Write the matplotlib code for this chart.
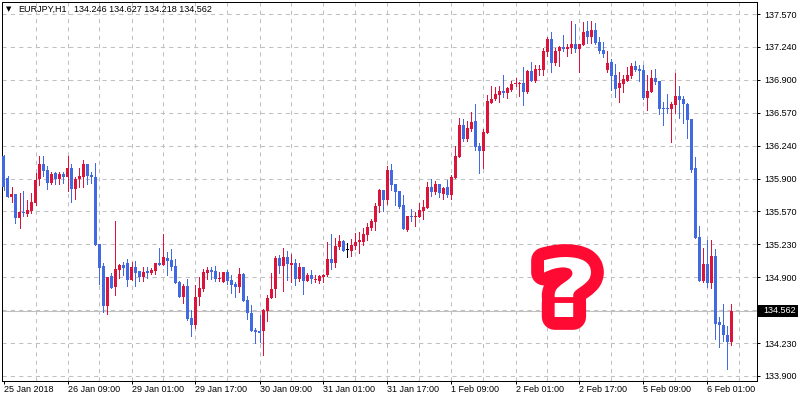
import numpy as np
import matplotlib
matplotlib.use('Agg')
import matplotlib.pyplot as plt
from matplotlib.textpath import TextPath
from matplotlib.patches import PathPatch, Rectangle
from matplotlib.font_manager import FontProperties
from matplotlib.transforms import Affine2D, blended_transform_factory

plt.rcParams['font.family'] = 'Liberation Sans'
plt.rcParams['font.size'] = 6.5

# --- EURJPY H1 bars ---
opens = [
    136.131, 135.904, 135.714, 135.744, 135.504, 135.564, 135.544, 135.574, 135.654, 135.894,
    136.051, 135.991, 135.854, 135.961, 135.894, 135.951, 135.914, 136.011, 135.794, 135.894,
    135.914, 136.051, 135.934, 135.914, 135.237, 135.017, 134.611, 134.911, 134.801, 134.977,
    135.027, 135.047, 134.871, 135.007, 134.967, 134.901, 134.967, 134.947, 134.967, 135.047,
    135.027, 135.097, 135.077, 135.017, 134.851, 134.701, 134.811, 134.491, 134.414, 134.701,
    134.781, 134.947, 134.977, 134.967, 134.881, 134.851, 134.957, 134.871, 134.831, 134.801,
    134.937, 134.671, 134.541, 134.364, 134.354, 134.354, 134.561, 134.691, 134.781, 135.097,
    135.017, 135.107, 135.027, 135.047, 134.881, 135.007, 134.861, 134.921, 134.871, 134.861,
    134.901, 134.921, 135.087, 135.047, 135.207, 135.267, 135.177, 135.167, 135.217, 135.257,
    135.257, 135.327, 135.397, 135.464, 135.624, 135.784, 135.684, 135.991, 135.844, 135.774,
    135.634, 135.377, 135.524, 135.514, 135.514, 135.574, 135.604, 135.814, 135.764, 135.844,
    135.744, 135.814, 135.734, 135.904, 136.121, 136.441, 136.301, 136.401, 136.488, 136.231,
    136.181, 136.361, 136.668, 136.708, 136.748, 136.788, 136.768, 136.798, 136.858, 136.858,
    136.868, 136.778, 136.997, 136.888, 137.007, 137.007, 137.187, 137.317, 137.077, 137.197,
    137.237, 137.217, 137.227, 137.267, 137.217, 137.257, 137.397, 137.337, 137.407, 137.287,
    137.207, 137.007, 137.087, 136.948, 136.818, 136.858, 136.888, 136.938, 137.047, 137.017,
    137.007, 136.718, 136.778, 136.918, 136.888, 136.618, 136.618, 136.608, 136.648, 136.738,
    136.708, 136.658, 136.508, 136.011, 135.307, 134.861, 135.037, 134.841, 135.117, 134.451,
    134.414, 134.314, 134.246,
]
highs = [
    136.141, 135.924, 135.814, 135.744, 135.754, 135.774, 135.684, 135.754, 135.961, 136.131,
    136.131, 136.031, 135.971, 135.971, 135.971, 135.971, 136.131, 136.051, 135.914, 136.011,
    136.091, 136.051, 135.971, 136.061, 135.237, 135.047, 134.901, 134.947, 135.474, 135.037,
    135.057, 135.087, 135.057, 135.067, 134.967, 135.007, 135.007, 134.997, 135.047, 135.197,
    135.337, 135.157, 135.187, 135.087, 134.861, 134.831, 134.881, 134.571, 134.821, 134.901,
    134.987, 135.007, 135.007, 135.017, 134.957, 134.957, 134.977, 134.927, 134.851, 134.997,
    134.947, 134.711, 134.621, 134.384, 134.521, 134.581, 134.721, 134.947, 135.117, 135.127,
    135.197, 135.167, 135.137, 135.087, 135.047, 135.007, 134.947, 134.977, 134.921, 134.921,
    134.937, 135.257, 135.337, 135.297, 135.327, 135.277, 135.247, 135.287, 135.347, 135.357,
    135.397, 135.454, 135.494, 135.654, 135.794, 135.784, 136.031, 136.051, 135.844, 135.774,
    135.734, 135.524, 135.594, 135.564, 135.654, 135.684, 135.864, 135.894, 135.874, 135.844,
    135.814, 135.884, 135.934, 136.231, 136.518, 136.508, 136.488, 136.578, 136.658, 136.261,
    136.401, 136.748, 136.838, 136.828, 136.838, 136.948, 136.828, 136.888, 136.918, 136.878,
    137.037, 137.007, 137.087, 137.057, 137.057, 137.227, 137.337, 137.387, 137.227, 137.247,
    137.357, 137.267, 137.497, 137.467, 137.267, 137.487, 137.497, 137.497, 137.477, 137.337,
    137.287, 137.197, 137.117, 137.067, 136.977, 136.948, 137.037, 137.077, 137.097, 137.057,
    137.057, 136.948, 137.007, 137.017, 136.888, 136.678, 136.758, 136.678, 136.967, 136.838,
    136.738, 136.668, 136.508, 136.121, 135.417, 135.197, 135.277, 135.277, 135.187, 134.501,
    134.631, 134.404, 134.627,
]
lows = [
    135.784, 135.714, 135.664, 135.454, 135.397, 135.524, 135.524, 135.554, 135.634, 135.834,
    135.924, 135.794, 135.844, 135.844, 135.844, 135.854, 135.774, 135.664, 135.694, 135.814,
    135.814, 135.844, 135.854, 135.227, 134.831, 134.551, 134.531, 134.791, 134.721, 134.891,
    134.921, 134.811, 134.871, 134.811, 134.861, 134.861, 134.891, 134.937, 134.937, 135.027,
    135.027, 134.921, 134.977, 134.841, 134.701, 134.641, 134.471, 134.304, 134.384, 134.621,
    134.761, 134.881, 134.881, 134.861, 134.861, 134.851, 134.831, 134.741, 134.701, 134.751,
    134.661, 134.481, 134.354, 134.234, 134.244, 134.114, 134.461, 134.691, 134.701, 134.947,
    134.761, 134.871, 134.851, 134.821, 134.861, 134.731, 134.861, 134.841, 134.851, 134.841,
    134.851, 134.911, 134.987, 135.007, 135.187, 135.167, 135.107, 135.117, 135.187, 135.147,
    135.227, 135.277, 135.377, 135.377, 135.564, 135.574, 135.644, 135.784, 135.634, 135.604,
    135.387, 135.367, 135.474, 135.417, 135.514, 135.494, 135.604, 135.724, 135.744, 135.714,
    135.694, 135.714, 135.694, 135.904, 136.121, 136.281, 136.281, 136.381, 136.191, 135.961,
    136.011, 136.361, 136.668, 136.698, 136.678, 136.728, 136.718, 136.788, 136.838, 136.738,
    136.648, 136.768, 136.888, 136.878, 136.948, 136.948, 137.147, 136.977, 137.057, 137.047,
    137.197, 137.147, 137.177, 137.187, 136.987, 137.257, 137.277, 137.277, 137.267, 137.177,
    137.137, 136.977, 136.798, 136.728, 136.678, 136.778, 136.888, 136.918, 136.997, 136.888,
    136.708, 136.598, 136.778, 136.858, 136.558, 136.441, 136.568, 136.271, 136.568, 136.518,
    136.468, 136.311, 135.971, 135.297, 134.861, 134.851, 134.801, 134.791, 134.274, 134.194,
    134.254, 133.974, 134.218,
]
closes = [
    135.814, 135.714, 135.744, 135.504, 135.564, 135.554, 135.584, 135.664, 135.884, 136.051,
    135.981, 135.854, 135.951, 135.894, 135.951, 135.914, 136.011, 135.794, 135.894, 135.924,
    136.051, 135.924, 135.914, 135.227, 134.997, 134.611, 134.901, 134.791, 134.987, 135.027,
    134.997, 134.871, 135.007, 134.947, 134.901, 134.957, 134.947, 134.977, 135.047, 135.027,
    135.107, 135.067, 135.007, 134.841, 134.701, 134.811, 134.481, 134.414, 134.701, 134.791,
    134.957, 134.977, 134.957, 134.881, 134.891, 134.957, 134.861, 134.821, 134.801, 134.937,
    134.661, 134.541, 134.354, 134.344, 134.334, 134.571, 134.691, 134.781, 135.097, 135.017,
    135.107, 135.037, 135.047, 134.881, 135.007, 134.861, 134.921, 134.881, 134.881, 134.911,
    134.921, 135.087, 135.047, 135.217, 135.267, 135.167, 135.177, 135.227, 135.257, 135.277,
    135.337, 135.407, 135.474, 135.624, 135.784, 135.684, 135.991, 135.834, 135.764, 135.614,
    135.387, 135.524, 135.514, 135.524, 135.584, 135.614, 135.814, 135.764, 135.844, 135.754,
    135.804, 135.734, 135.914, 136.131, 136.441, 136.301, 136.411, 136.478, 136.221, 136.181,
    136.371, 136.688, 136.708, 136.758, 136.788, 136.768, 136.818, 136.858, 136.868, 136.868,
    136.778, 136.997, 136.888, 137.017, 137.017, 137.197, 137.317, 137.077, 137.197, 137.237,
    137.217, 137.237, 137.267, 137.217, 137.267, 137.387, 137.337, 137.407, 137.277, 137.197,
    137.167, 137.077, 136.938, 136.808, 136.868, 136.908, 136.948, 137.047, 137.007, 136.997,
    136.718, 136.788, 136.918, 136.878, 136.608, 136.608, 136.608, 136.658, 136.738, 136.698,
    136.658, 136.498, 135.991, 135.297, 134.861, 135.037, 134.841, 135.117, 134.431, 134.414,
    134.314, 134.244, 134.562,
]

time_labels = ['25 Jan 2018', '26 Jan 09:00', '29 Jan 01:00', '29 Jan 17:00', '30 Jan 09:00',
               '31 Jan 01:00', '31 Jan 17:00', '1 Feb 09:00', '2 Feb 01:00', '2 Feb 17:00',
               '5 Feb 09:00', '6 Feb 01:00']
price_levels = [133.900, 134.2336, 134.5673, 134.9009, 135.2345, 135.5682,
                135.9018, 136.2355, 136.5691, 136.9027, 137.2364, 137.570]
price_labels = ['133.900', '134.230', '', '134.900', '135.230', '135.570',
                '135.900', '136.240', '136.570', '136.900', '137.240', '137.570']

symbol = 'EURJPY,H1'

o, h, l, c = map(np.array, (opens, highs, lows, closes))
assert len(o) == len(h) == len(l) == len(c)
x = np.arange(len(o))

RED = '#dc143c'
BLUE = '#4169e1'
GRID = '#c0c0c0'
colors = np.where(c > o, RED, np.where(c < o, BLUE, '#000000'))

fig = plt.figure(figsize=(8, 4), dpi=100)
ax = fig.add_axes([2 / 800, 19 / 400, 755 / 800, 379 / 400])
ax.set_xlim(-0.375, 188.375)
ax.set_ylim(133.8493, 137.6917)

# grid
for gx in range(8, 189, 8):
    ax.axvline(gx, color=GRID, lw=0.75, ls=(0, (4, 4)), zorder=0)
for gy in price_levels:
    ax.axhline(gy, color=GRID, lw=0.75, ls=(0, (4, 4)), zorder=0)

# last price line
ax.axhline(c[-1], color=GRID, lw=0.75, zorder=1)

# candles
ax.vlines(x, l, h, colors=colors, lw=0.72, antialiased=False, zorder=2)
ax.bar(x, np.maximum(np.abs(c - o), 0.0102), bottom=np.minimum(o, c), width=0.75,
       color=colors, lw=0, antialiased=False, zorder=3)

# axes
ax.yaxis.tick_right()
ax.set_yticks(price_levels)
ax.set_yticklabels(price_labels)
ax.set_xticks(range(0, len(x), 16))
ax.set_xticklabels(time_labels, ha='left')
ax.tick_params(axis='both', length=2.2, width=0.72, direction='out', colors='black')
ax.tick_params(axis='x', pad=1)
ax.tick_params(axis='y', pad=3)
for s in ax.spines.values():
    s.set_linewidth(0.72)
    s.set_color('black')

# current price box
bt = blended_transform_factory(ax.transAxes, ax.transData)
ax.add_patch(Rectangle((1.0, c[-1] - 0.061), 41 / 755, 0.122, transform=bt,
                       fc='black', ec='none', clip_on=False, zorder=10))
ax.text(1.0 + 6 / 755, c[-1], f'{c[-1]:.3f}', transform=bt, color='white',
        ha='left', va='center', zorder=11, clip_on=False)

# header
fig.text(6 / 800, 1 - 9.5 / 400, '\u25bc', fontsize=5, family='DejaVu Sans', va='center')
fig.text(18 / 800, 1 - 9.5 / 400, symbol, va='center')
fig.text(74 / 800, 1 - 9.5 / 400, f'{o[-1]:.3f} {h[-1]:.3f} {l[-1]:.3f} {c[-1]:.3f}', va='center')

# big red question mark
tp = TextPath((0, 0), '?', size=100, prop=FontProperties(family='DejaVu Sans', weight='bold'))
bb = tp.get_extents()
qx, qy, qw, qh = 544, 400 - 317, 47, 60
tr = (Affine2D().translate(-bb.x0, -bb.y0).scale(qw / bb.width, qh / bb.height)
      .translate(qx, qy).scale(1 / 800, 1 / 400) + fig.transFigure)
fig.add_artist(PathPatch(tp, transform=tr, fc='#ff0a32', ec='#ff0a32', lw=18.5,
                         joinstyle='round', zorder=20))
fig.add_artist(PathPatch(tp, transform=tr, fc='white', ec='none', zorder=21))

fig.savefig('out.png', dpi=100)
